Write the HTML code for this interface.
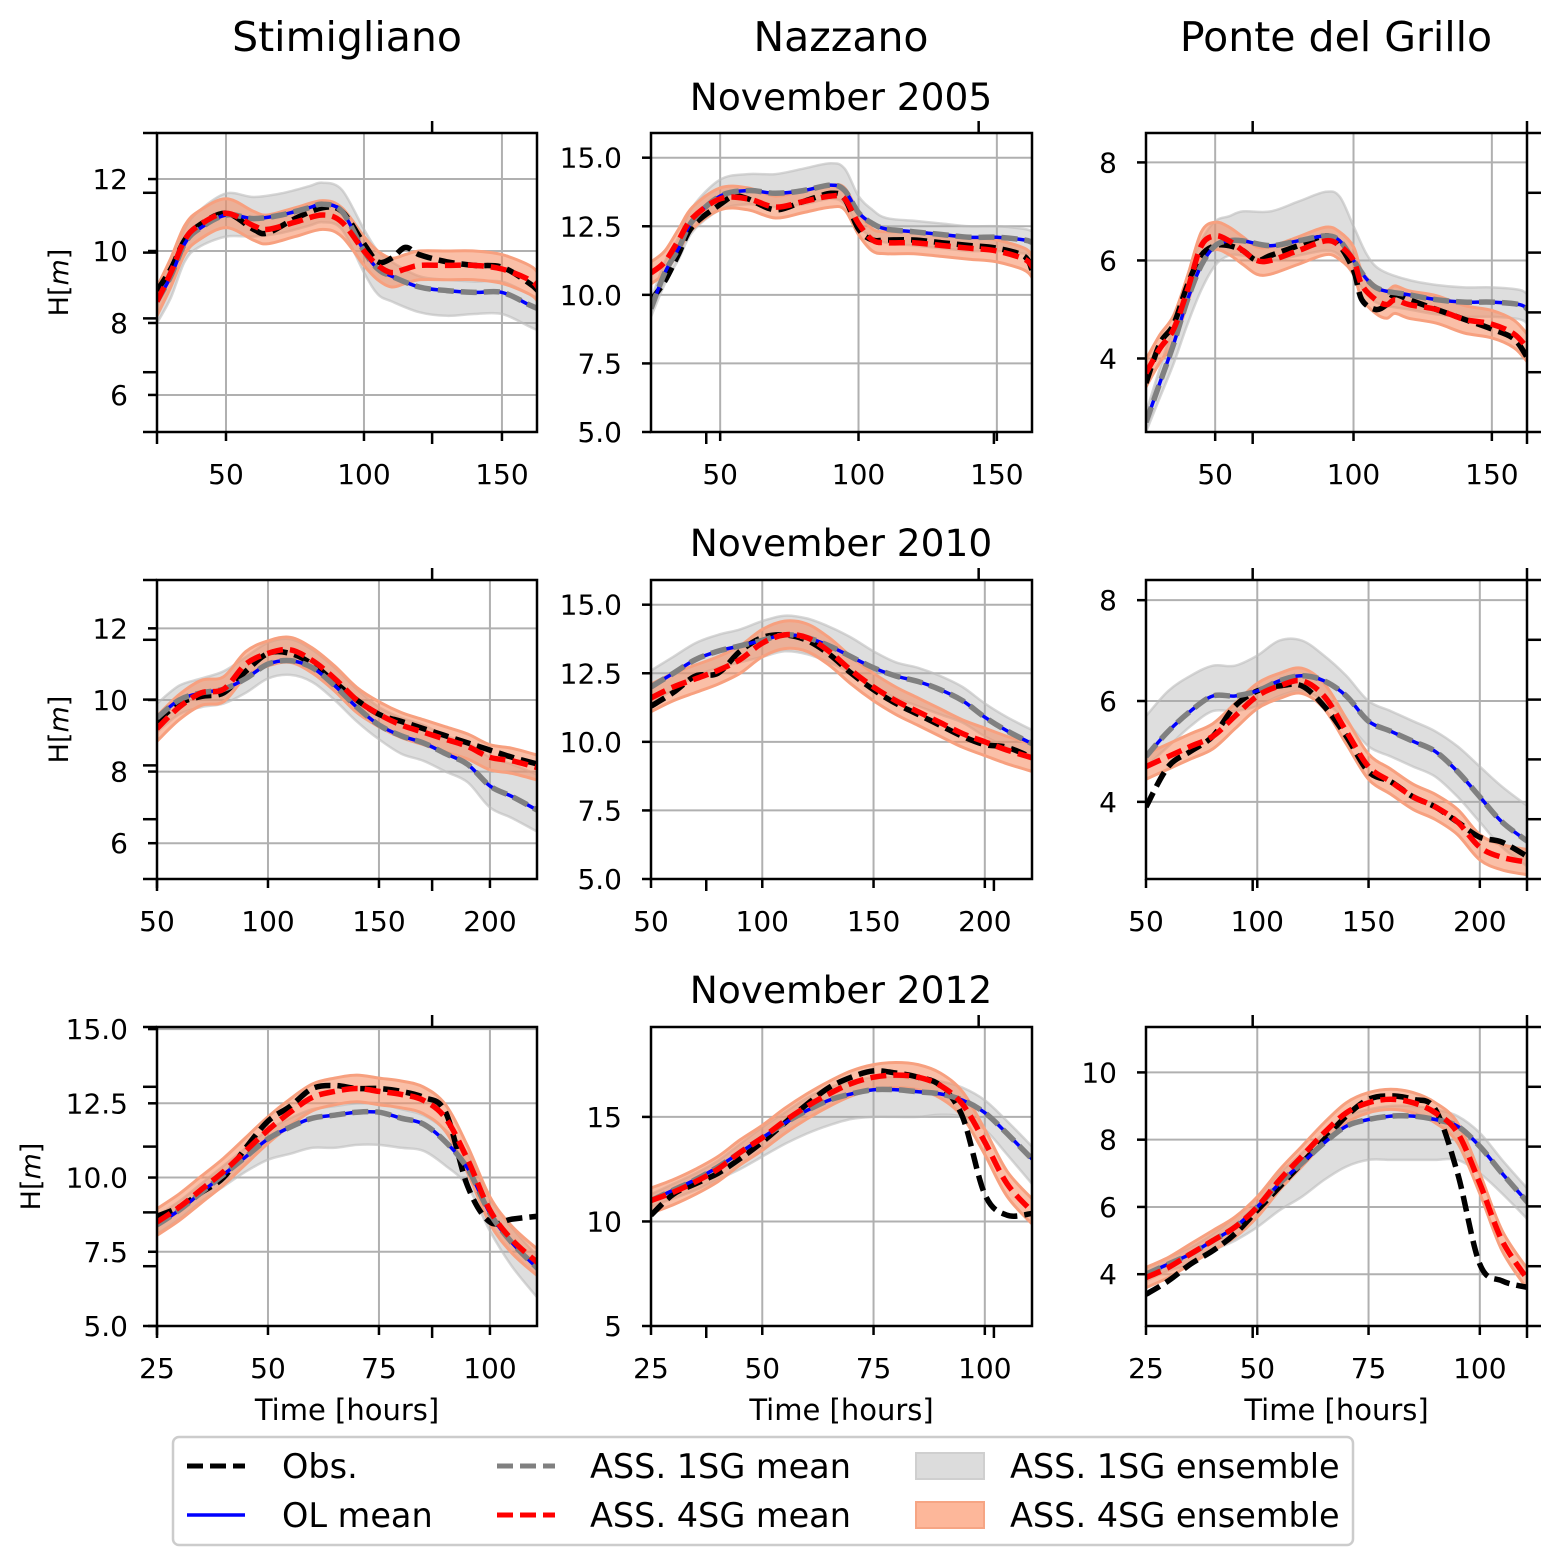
<!DOCTYPE html>
<html><head><meta charset="utf-8"><style>
html,body{margin:0;padding:0;background:#fff;}
svg{display:block;font-family:"DejaVu Sans","Liberation Sans",sans-serif;}
</style></head><body>
<svg id="fig" width="1561" height="1567" viewBox="0 0 1561 1567" xmlns="http://www.w3.org/2000/svg">
<defs id="defs"></defs>
<g id="titles">
<text x="347" y="51" font-size="41" text-anchor="middle">Stimigliano</text>
<text x="841" y="51" font-size="41" text-anchor="middle">Nazzano</text>
<text x="1336" y="51" font-size="41" text-anchor="middle">Ponte del Grillo</text>
<text x="841" y="110" font-size="37.5" text-anchor="middle">November 2005</text>
<text x="841" y="556" font-size="37.5" text-anchor="middle">November 2010</text>
<text x="841" y="1003" font-size="37.5" text-anchor="middle">November 2012</text>
</g>
<g id="panels"></g>
<g id="legend">
<rect x="173" y="1437" width="1180" height="108" rx="6" fill="#fff" stroke="#cccccc" stroke-width="2.5"/>
<g><line x1="187" y1="1466" x2="245" y2="1466" stroke="#000" stroke-width="5" stroke-dasharray="16,7"/><text x="282" y="1478" font-size="33.5">Obs.</text></g>
<g><line x1="187" y1="1515" x2="245" y2="1515" stroke="#0000ff" stroke-width="3.5"/><text x="282" y="1527" font-size="33.5">OL mean</text></g>
<g><line x1="497" y1="1466" x2="555" y2="1466" stroke="#808080" stroke-width="5" stroke-dasharray="16,7"/><text x="590" y="1478" font-size="33.5">ASS. 1SG mean</text></g>
<g><line x1="497" y1="1515" x2="555" y2="1515" stroke="#ff0000" stroke-width="5" stroke-dasharray="16,7"/><text x="590" y="1527" font-size="33.5">ASS. 4SG mean</text></g>
<g><rect x="916" y="1453" width="68" height="26" fill="#dcdcdc" stroke="#cfcfcf" stroke-width="2"/><text x="1010" y="1478" font-size="33.5">ASS. 1SG ensemble</text></g>
<g><rect x="916" y="1502" width="68" height="26" fill="#fdb79a" stroke="#f6a584" stroke-width="2"/><text x="1010" y="1527" font-size="33.5">ASS. 4SG ensemble</text></g>
</g>
</svg>
<script>
// ---------- data ----------
const r1c1_obsT=[25,30,35,40,50,60,65,75,85,92,100,105,110,115,120,130,140,150,160,163];
const r1c1_obs=[8.9,9.5,10.3,10.7,11.05,10.6,10.5,10.9,11.2,11.1,10.2,9.7,9.8,10.1,9.9,9.7,9.6,9.55,9.1,8.9];
const r1c1_olT=[25,30,35,40,50,60,70,80,85,92,100,105,110,120,130,140,150,160,163];
const r1c1_ol=[8.6,9.3,10.2,10.6,11.0,10.9,11.0,11.2,11.3,11.1,10.0,9.5,9.3,9.0,8.9,8.85,8.85,8.5,8.4];
const r1c1_gLo=[0.6,0.6,0.5,0.5,0.6,0.5,0.5,0.5,0.5,0.5,0.6,0.7,0.7,0.7,0.7,0.6,0.6,0.6,0.6];
const r1c1_gHi=[0.3,0.3,0.4,0.5,0.6,0.6,0.6,0.6,0.6,0.6,0.6,0.5,0.4,0.3,0.3,0.3,0.3,0.3,0.3];
const r1c1_a4T=[25,30,35,40,50,60,65,75,85,92,100,105,110,115,120,130,140,150,160,163];
const r1c1_a4=[8.6,9.4,10.3,10.7,11.05,10.7,10.6,10.8,11.0,10.8,10.0,9.6,9.4,9.5,9.6,9.6,9.6,9.5,9.2,9.0];
const r1c1_rHw=[0.4];

const r1c2_obsT=[25,30,35,40,50,55,60,70,80,90,95,100,105,110,120,130,140,150,160,163];
const r1c2_obs=[9.8,10.5,11.5,12.5,13.3,13.6,13.5,13.1,13.4,13.7,13.5,12.4,12.0,12.0,12.0,11.9,11.8,11.7,11.4,10.8];
const r1c2_olT=[25,30,35,40,50,60,70,80,90,95,100,105,110,120,130,140,150,160,163];
const r1c2_ol=[9.5,10.8,11.7,12.7,13.6,13.8,13.7,13.8,14.0,13.8,13.0,12.6,12.4,12.3,12.2,12.1,12.1,12.0,11.9];
const r1c2_gLo=[0.3,0.4,0.4,0.4,0.5,0.5,0.5,0.5,0.5,0.5,0.5,0.5,0.5,0.5,0.5,0.5,0.5,0.5,0.5];
const r1c2_gHi=[0.3,0.4,0.4,0.5,0.6,0.6,0.7,0.8,0.8,0.8,0.6,0.5,0.4,0.4,0.4,0.4,0.4,0.4,0.4];
const r1c2_a4T=[25,30,35,40,50,60,70,80,90,95,100,105,110,120,130,140,150,160,163];
const r1c2_a4=[10.8,11.2,12.0,12.8,13.5,13.5,13.2,13.4,13.6,13.5,12.6,12.0,11.9,11.9,11.8,11.7,11.6,11.3,11.0];
const r1c2_rHw=[0.4];

const r1c3_obsT=[25,30,35,40,45,50,55,60,65,70,80,90,95,100,103,108,112,115,120,130,140,150,158,163];
const r1c3_obs=[3.5,4.3,4.7,5.5,6.1,6.3,6.3,6.2,6.0,6.1,6.3,6.5,6.3,5.8,5.2,5.0,5.1,5.3,5.2,5.0,4.8,4.6,4.4,4.0];
const r1c3_olT=[25,30,35,40,45,50,55,60,70,80,90,95,100,105,110,120,130,140,150,160,163];
const r1c3_ol=[2.7,3.5,4.3,5.2,5.9,6.3,6.4,6.4,6.3,6.4,6.5,6.4,6.0,5.6,5.4,5.3,5.2,5.15,5.15,5.1,5.0];
const r1c3_gLo=[0.2,0.3,0.4,0.5,0.5,0.4,0.3,0.3,0.3,0.3,0.3,0.3,0.3,0.3,0.3,0.3,0.3,0.3,0.3,0.3,0.3];
const r1c3_gHi=[0.2,0.3,0.4,0.5,0.5,0.5,0.5,0.6,0.7,0.8,0.9,0.9,0.7,0.5,0.4,0.3,0.3,0.3,0.3,0.3,0.3];
const r1c3_a4T=[25,30,35,40,45,50,55,60,65,70,80,90,95,100,103,108,112,115,120,130,140,150,158,163];
const r1c3_a4=[3.7,4.2,4.6,5.4,6.3,6.5,6.4,6.2,6.0,6.0,6.2,6.4,6.3,6.0,5.5,5.2,5.1,5.2,5.1,5.0,4.8,4.7,4.5,4.2];
const r1c3_rHw=[0.28];

const r2_T=[50,60,70,80,90,100,110,120,130,140,150,160,170,180,190,200,210,222];
const r2c1_obs=[9.4,9.9,10.1,10.2,10.8,11.3,11.3,11.0,10.5,10.0,9.6,9.4,9.2,9.0,8.8,8.6,8.4,8.2];
const r2c1_ol=[9.5,10.0,10.2,10.3,10.6,11.0,11.1,10.9,10.4,9.8,9.3,9.0,8.8,8.5,8.2,7.6,7.3,6.9];
const r2c1_gLo=[0.4,0.4,0.4,0.4,0.4,0.4,0.4,0.4,0.4,0.4,0.4,0.5,0.5,0.5,0.5,0.6,0.6,0.6];
const r2c1_gHi=[0.4,0.4,0.4,0.5,0.6,0.6,0.6,0.5,0.5,0.5,0.5,0.5,0.5,0.5,0.6,0.8,0.9,1.0];
const r2c1_a4=[9.2,9.8,10.2,10.3,11.0,11.3,11.4,11.1,10.6,10.0,9.6,9.3,9.1,8.9,8.7,8.4,8.3,8.1];
const r2c1_rHw=[0.35];

const r2c2_obs=[11.3,11.8,12.4,12.5,13.3,13.8,13.9,13.7,13.2,12.5,11.9,11.4,11.0,10.6,10.2,9.9,9.8,9.4];
const r2c2_ol=[12.0,12.5,13.0,13.3,13.5,13.7,13.9,13.8,13.5,13.1,12.7,12.4,12.2,11.9,11.5,10.9,10.4,9.9];
const r2c2_gLo=[0.6,0.6,0.6,0.6,0.6,0.6,0.6,0.6,0.6,0.6,0.7,0.8,0.9,0.9,0.8,0.7,0.6,0.6];
const r2c2_gHi=[0.6,0.6,0.6,0.6,0.6,0.7,0.7,0.7,0.7,0.7,0.6,0.5,0.5,0.5,0.5,0.5,0.5,0.5];
const r2c2_a4=[11.6,12.0,12.3,12.6,13.0,13.6,13.9,13.8,13.3,12.6,12.0,11.5,11.1,10.7,10.3,10.0,9.7,9.4];
const r2c2_rHw=[0.5];

const r2c3_obs=[3.9,4.7,5.0,5.3,5.9,6.2,6.3,6.3,5.9,5.3,4.6,4.4,4.1,3.9,3.6,3.3,3.2,2.9];
const r2c3_ol=[4.9,5.4,5.8,6.1,6.1,6.2,6.4,6.5,6.4,6.1,5.6,5.4,5.2,5.0,4.6,4.1,3.6,3.2];
const r2c3_gLo=[0.2,0.3,0.3,0.3,0.3,0.3,0.3,0.3,0.4,0.5,0.5,0.5,0.5,0.5,0.5,0.5,0.5,0.5];
const r2c3_gHi=[0.8,0.8,0.7,0.6,0.6,0.7,0.8,0.7,0.5,0.4,0.4,0.4,0.4,0.4,0.5,0.6,0.7,0.7];
const r2c3_a4=[4.7,4.9,5.1,5.3,5.7,6.1,6.3,6.4,6.1,5.4,4.7,4.4,4.1,3.9,3.6,3.1,2.9,2.8];
const r2c3_rHw=[0.25];

const r3_T=[25,30,35,40,45,50,55,60,65,70,75,80,85,90,95,100,105,111];
const r3c1_obs=[8.7,9.0,9.5,10.0,11.0,11.9,12.4,13.0,13.1,13.0,13.0,12.9,12.7,12.2,9.7,8.5,8.6,8.7];
const r3c1_ol=[8.4,8.9,9.5,10.1,10.7,11.3,11.7,12.0,12.1,12.2,12.2,12.0,11.8,11.2,10.3,8.8,7.8,6.9];
const r3c1_gLo=[0.3,0.3,0.3,0.4,0.5,0.7,0.9,1.0,1.1,1.1,1.1,1.0,0.9,0.8,0.6,0.6,0.8,1.0];
const r3c1_gHi=[0.3,0.3,0.3,0.3,0.3,0.3,0.3,0.3,0.3,0.3,0.3,0.3,0.3,0.4,0.5,0.5,0.5,0.4];
const r3c1_a4=[8.5,9.0,9.6,10.2,10.9,11.6,12.2,12.7,12.9,13.0,12.9,12.8,12.6,12.0,10.6,8.9,7.9,7.1];
const r3c1_rHw=[0.45];

const r3c2_obs=[10.3,11.3,11.8,12.3,13.0,13.8,14.7,15.6,16.4,16.9,17.2,17.1,16.9,16.5,15.0,11.3,10.3,10.4];
const r3c2_ol=[11.0,11.5,12.0,12.6,13.3,14.0,14.7,15.3,15.8,16.1,16.3,16.3,16.2,16.1,15.8,15.2,14.2,12.9];
const r3c2_gLo=[0.3,0.4,0.5,0.6,0.8,0.9,1.0,1.1,1.2,1.2,1.3,1.3,1.2,1.0,0.8,0.8,1.0,1.2];
const r3c2_gHi=[0.3,0.3,0.3,0.3,0.4,0.5,0.5,0.6,0.6,0.6,0.6,0.6,0.6,0.6,0.6,0.6,0.6,0.6];
const r3c2_a4=[11.0,11.4,11.9,12.5,13.3,14.0,14.8,15.5,16.1,16.6,16.9,17.0,16.9,16.5,15.6,13.8,11.8,10.4];
const r3c2_rHw=[0.6];

const r3c3_obs=[3.4,3.8,4.3,4.7,5.2,5.9,6.6,7.3,8.0,8.7,9.2,9.3,9.2,8.9,7.0,4.3,3.8,3.6];
const r3c3_ol=[4.0,4.3,4.6,5.0,5.4,6.0,6.7,7.3,7.9,8.4,8.6,8.7,8.7,8.6,8.4,7.8,7.0,6.1];
const r3c3_gLo=[0.2,0.2,0.3,0.3,0.4,0.6,0.8,1.0,1.1,1.2,1.2,1.3,1.3,1.2,1.0,0.8,0.6,0.5];
const r3c3_gHi=[0.2,0.2,0.2,0.2,0.3,0.3,0.3,0.3,0.3,0.3,0.3,0.3,0.3,0.3,0.3,0.4,0.4,0.4];
const r3c3_a4=[3.9,4.2,4.6,5.0,5.4,6.0,6.8,7.5,8.2,8.8,9.1,9.2,9.1,8.8,8.2,6.7,5.0,3.8];
const r3c3_rHw=[0.3];

const xTicks1=[50,100,150], xTicks2=[50,100,150,200], xTicks3=[25,50,75,100];
const yTicksA=[6,8,10,12], yTicksB=[5,7.5,10,12.5,15], yTicksC=[4,6,8];
const yTicksD=[5,7.5,10,12.5,15], yTicksE=[5,10,15], yTicksF=[4,6,8,10];
const yLabelsB=["5.0","7.5","10.0","12.5","15.0"];

// ---------- layout ----------
const cols=[[157,537],[651,1032],[1146,1527]];
const rows=[[133,432],[580,879],[1027,1326]];
const xDom=[[25,162.7],[50,221.2],[25,110.6]];
const yDom=[
 [[4.97,13.28],[5,15.9],[2.5,8.6]],
 [[5,13.35],[5,15.9],[2.47,8.4]],
 [[5,15.07],[5,19.3],[2.46,11.35]]
];
const NS='http://www.w3.org/2000/svg';
function el(tag,attrs,parent){const e=document.createElementNS(NS,tag);for(const k in attrs)e.setAttribute(k,attrs[k]);if(parent)parent.appendChild(e);return e;}
function smooth(pts){
 if(pts.length<2)return '';
 let d='M'+pts[0][0].toFixed(1)+','+pts[0][1].toFixed(1);
 for(let i=0;i<pts.length-1;i++){
  const p0=pts[Math.max(0,i-1)],p1=pts[i],p2=pts[i+1],p3=pts[Math.min(pts.length-1,i+2)];
  const c1=[p1[0]+(p2[0]-p0[0])/6,p1[1]+(p2[1]-p0[1])/6];
  const c2=[p2[0]-(p3[0]-p1[0])/6,p2[1]-(p3[1]-p1[1])/6];
  d+=' C'+c1[0].toFixed(1)+','+c1[1].toFixed(1)+' '+c2[0].toFixed(1)+','+c2[1].toFixed(1)+' '+p2[0].toFixed(1)+','+p2[1].toFixed(1);
 }
 return d;
}
function bandPath(xs,lo,hi){
 const top=xs.map((x,i)=>[x,hi[i]]);
 const bot=xs.map((x,i)=>[x,lo[i]]).reverse();
 let d=smooth(top);
 const b=smooth(bot);
 d+=' L'+b.slice(1)+' Z';
 return d;
}
const panelsG=document.getElementById('panels');
const defs=document.getElementById('defs');
const panelDefs=[
 [ {oT:r1c1_obsT,o:r1c1_obs,lT:r1c1_olT,l:r1c1_ol,gLo:r1c1_gLo,gHi:r1c1_gHi,aT:r1c1_a4T,a:r1c1_a4,r:r1c1_rHw,xt:xTicks1,yt:yTicksA,yl:null},
   {oT:r1c2_obsT,o:r1c2_obs,lT:r1c2_olT,l:r1c2_ol,gLo:r1c2_gLo,gHi:r1c2_gHi,aT:r1c2_a4T,a:r1c2_a4,r:r1c2_rHw,xt:xTicks1,yt:yTicksB,yl:yLabelsB},
   {oT:r1c3_obsT,o:r1c3_obs,lT:r1c3_olT,l:r1c3_ol,gLo:r1c3_gLo,gHi:r1c3_gHi,aT:r1c3_a4T,a:r1c3_a4,r:r1c3_rHw,xt:xTicks1,yt:yTicksC,yl:null} ],
 [ {oT:r2_T,o:r2c1_obs,lT:r2_T,l:r2c1_ol,gLo:r2c1_gLo,gHi:r2c1_gHi,aT:r2_T,a:r2c1_a4,r:r2c1_rHw,xt:xTicks2,yt:yTicksA,yl:null},
   {oT:r2_T,o:r2c2_obs,lT:r2_T,l:r2c2_ol,gLo:r2c2_gLo,gHi:r2c2_gHi,aT:r2_T,a:r2c2_a4,r:r2c2_rHw,xt:xTicks2,yt:yTicksB,yl:yLabelsB},
   {oT:r2_T,o:r2c3_obs,lT:r2_T,l:r2c3_ol,gLo:r2c3_gLo,gHi:r2c3_gHi,aT:r2_T,a:r2c3_a4,r:r2c3_rHw,xt:xTicks2,yt:yTicksC,yl:null} ],
 [ {oT:r3_T,o:r3c1_obs,lT:r3_T,l:r3c1_ol,gLo:r3c1_gLo,gHi:r3c1_gHi,aT:r3_T,a:r3c1_a4,r:r3c1_rHw,xt:xTicks3,yt:yTicksD,yl:["5.0","7.5","10.0","12.5","15.0"]},
   {oT:r3_T,o:r3c2_obs,lT:r3_T,l:r3c2_ol,gLo:r3c2_gLo,gHi:r3c2_gHi,aT:r3_T,a:r3c2_a4,r:r3c2_rHw,xt:xTicks3,yt:yTicksE,yl:null},
   {oT:r3_T,o:r3c3_obs,lT:r3_T,l:r3c3_ol,gLo:r3c3_gLo,gHi:r3c3_gHi,aT:r3_T,a:r3c3_a4,r:r3c3_rHw,xt:xTicks3,yt:yTicksF,yl:null} ]
];
// decorative secondary-axis tick fractions (styling, not data)
const extraLeftFrac=[0,0.2,0.4,0.62,0.8,1];
const extraTopFrac=0.724;
const extraRightFrac=[0.2,0.4,0.6,0.8];

for(let ri=0;ri<3;ri++)for(let ci=0;ci<3;ci++){
 const P=panelDefs[ri][ci];
 const [x0,x1]=cols[ci],[y0,y1]=rows[ri];
 const [xa,xb]=xDom[ri],[ya,yb]=yDom[ri][ci];
 const X=v=>x0+(v-xa)/(xb-xa)*(x1-x0);
 const Y=v=>y1-(v-ya)/(yb-ya)*(y1-y0);
 const g=el('g',{},panelsG);
 
 
 const cid='clip'+ri+ci;
 const cp=el('clipPath',{id:cid},defs);
 el('rect',{x:x0,y:y0,width:x1-x0,height:y1-y0},cp);
 const grid=el('g',{stroke:'#b0b0b0','stroke-width':2},g);
 
 
 P.xt.forEach(t=>el('line',{x1:X(t),x2:X(t),y1:y0,y2:y1},grid));
 P.yt.forEach(t=>el('line',{x1:x0,x2:x1,y1:Y(t),y2:Y(t)},grid));
 const plot=el('g',{'clip-path':'url(#'+cid+')'},g);
 const gb=el('path',{d:bandPath(P.lT.map(X),P.l.map((v,i)=>Y(v-P.gLo[i])),P.l.map((v,i)=>Y(v+P.gHi[i]))),fill:'#a9a9a9','fill-opacity':0.38,stroke:'#bdbdbd','stroke-opacity':0.6,'stroke-width':2.5},plot);
 
 
 const rb=el('path',{d:bandPath(P.aT.map(X),P.a.map(v=>Y(v-P.r[0])),P.a.map(v=>Y(v+P.r[0]))),fill:'#f58a5e','fill-opacity':0.55,stroke:'#f7a07f','stroke-width':3},plot);
 
 
 const ob=el('path',{d:smooth(P.oT.map((t,i)=>[X(t),Y(P.o[i])])),fill:'none',stroke:'#000','stroke-width':5.5,'stroke-dasharray':'16,7'},plot);
 
 
 const olp=smooth(P.lT.map((t,i)=>[X(t),Y(P.l[i])]));
 const bl=el('path',{d:olp,fill:'none',stroke:'#0000ff','stroke-width':3.5},plot);
 
 
 const gl=el('path',{d:olp,fill:'none',stroke:'#808080','stroke-width':5.5,'stroke-dasharray':'16,7'},plot);
 
 
 const rl=el('path',{d:smooth(P.aT.map((t,i)=>[X(t),Y(P.a[i])])),fill:'none',stroke:'#ff0000','stroke-width':5.5,'stroke-dasharray':'16,7'},plot);
 
 
 const sp=el('rect',{x:x0,y:y0,width:x1-x0,height:y1-y0,fill:'none',stroke:'#000','stroke-width':2.5},g);
 
 
 const tk=el('g',{stroke:'#000','stroke-width':2.5},g);
 const tl=el('g',{'font-size':'28',fill:'#000'},g);
 
 
 P.xt.forEach(t=>{const x=X(t);el('line',{x1:x,x2:x,y1:y1,y2:y1+9},tk);
   const tx=el('text',{x:x,y:y1+52,'text-anchor':'middle'},tl);tx.textContent=String(t);});
 P.yt.forEach((t,i)=>{const y=Y(t);el('line',{x1:x0,x2:x0-9,y1:y,y2:y},tk);
   const tx=el('text',{x:x0-29,y:y+10,'text-anchor':'end'},tl);tx.textContent=P.yl?P.yl[i]:String(t);});
 if(ci===0){
  extraLeftFrac.forEach(f=>el('line',{x1:x0,x2:x0-14,y1:y0+f*(y1-y0),y2:y0+f*(y1-y0)},tk));
  const xt=x0+extraTopFrac*(x1-x0);
  el('line',{x1:xt,x2:xt,y1:y0,y2:y0-12},tk);
  el('line',{x1:xt,x2:xt,y1:y1,y2:y1+12},tk);
  el('line',{x1:x0,x2:x0,y1:y1,y2:y1+12},tk);
 }
 if(ci===1){
  el('line',{x1:x0+0.145*(x1-x0),x2:x0+0.145*(x1-x0),y1:y1,y2:y1+12},tk);
  el('line',{x1:x0+0.86*(x1-x0),x2:x0+0.86*(x1-x0),y1:y0,y2:y0-12},tk);
  el('line',{x1:x0+0.9*(x1-x0),x2:x0+0.9*(x1-x0),y1:y1,y2:y1+12},tk);
 }
 if(ci===2){
  extraRightFrac.forEach(f=>el('line',{x1:x1,x2:x1+14,y1:y0+f*(y1-y0),y2:y0+f*(y1-y0)},tk));
  el('line',{x1:x1,x2:x1+14,y1:y0,y2:y0},tk);
  el('line',{x1:x1,x2:x1+14,y1:y1,y2:y1},tk);
  el('line',{x1:x1,x2:x1,y1:y0,y2:y0-12},tk);
  el('line',{x1:x1,x2:x1,y1:y1,y2:y1+12},tk);
  const xt=x0+0.28*(x1-x0);
  el('line',{x1:xt,x2:xt,y1:y0,y2:y0-12},tk);
  el('line',{x1:xt,x2:xt,y1:y1,y2:y1+12},tk);
 }
 if(ci===0){
  const yl=el('text',{x:0,y:0,'font-size':'27','text-anchor':'middle',transform:'translate('+(ri===2?40:68)+','+((y0+y1)/2)+') rotate(-90)'},g);
  
  
  yl.innerHTML='H[<tspan font-style="italic">m</tspan>]';
 }
 if(ri===2){
  const xl=el('text',{x:(x0+x1)/2,y:1420,'font-size':'29','text-anchor':'middle'},g);
  
  
  xl.textContent='Time [hours]';
 }
}
</script>
</body></html>
